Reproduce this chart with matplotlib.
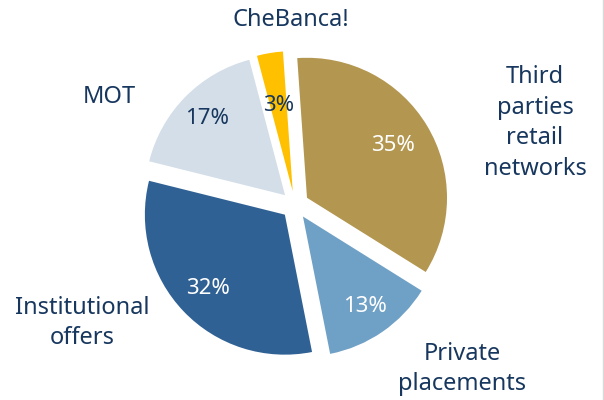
import matplotlib
matplotlib.use("Agg")
import math
import matplotlib.pyplot as plt
from matplotlib.lines import Line2D

categories = ["Third parties retail networks", "Private placements", "Institutional offers", "MOT", "CheBanca!"]
values = [35, 13, 32, 17, 3]
label_texts = ["Third\nparties\nretail\nnetworks", "Private\nplacements", "Institutional\noffers", "MOT", "CheBanca!"]
colors = ["#B3964F", "#6FA0C6", "#306195", "#D3DEE8", "#FFC000"]
pct_colors = ["white", "white", "white", "#17375E", "#17375E"]

plt.rcParams['font.family'] = ['Noto Sans', 'DejaVu Sans']
navy = "#17375E"

fig = plt.figure(figsize=(6.04, 4.0), dpi=100)
ax = fig.add_axes([0, 0, 1, 1])
H = 400
cx, cy, r = 295, H - 205, 140
expl = 14

wedges, texts, autotexts = ax.pie(
    values, colors=colors, startangle=94, counterclock=False,
    explode=[expl] * len(values), center=(cx, cy), radius=r,
    autopct='%d%%', pctdistance=0.72,
    textprops=dict(fontsize=16),
    wedgeprops=dict(linewidth=0))

pct_dist = [0.72, 0.78, 0.76, 0.78, 0.62]
for w, t, c, d in zip(wedges, autotexts, pct_colors, pct_dist):
    t.set_color(c)
    th = math.radians((w.theta1 + w.theta2) / 2)
    wx, wy = w.center
    t.set_position((wx + d * r * math.cos(th), wy + d * r * math.sin(th)))

label_pos = [(535, 123), (462, 369), (82, 323), (109, 97), (291, 20)]
for txt, (x, y) in zip(label_texts, label_pos):
    ax.text(x, H - y, txt, ha='center', va='center', fontsize=17,
            color=navy, linespacing=1.38)

ax.set_xlim(0, 604)
ax.set_ylim(0, 400)
ax.set_aspect('equal', adjustable='box')
ax.axis('off')
fig.add_artist(Line2D([602.5 / 604, 602.5 / 604], [0, 1], transform=fig.transFigure,
                      color="#D9D9D9", linewidth=1))
fig.savefig("out.png", dpi=100)
